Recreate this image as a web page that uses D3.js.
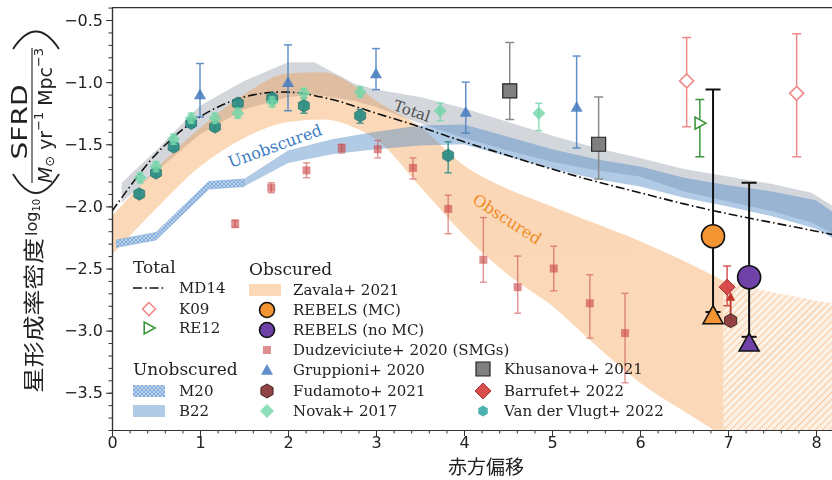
<!DOCTYPE html>
<html>
<head>
<meta charset="utf-8">
<script src="https://cdn.jsdelivr.net/npm/d3@7"></script>
<style>
  body { margin: 0; background: #fff; }
  svg { display: block; }
</style>
</head>
<body>
<svg id="chart" width="832" height="480"></svg>
<script>
// ---------- data (redshift z, log10 SFRD) ----------
const xTicks = [0, 1, 2, 3, 4, 5, 6, 7, 8];
const yTicks = [-3.5, -3.0, -2.5, -2.0, -1.5, -1.0, -0.5];

// Madau & Dickinson 2014 curve
const mdZ    = [0, 0.5, 1, 1.5, 2, 2.5, 3, 3.5, 4, 4.5, 5, 5.5, 6, 6.5, 7, 7.5, 8, 8.5];
const mdSFRD = [-2.04, -1.58, -1.28, -1.12, -1.08, -1.14, -1.25, -1.36, -1.48, -1.59, -1.70, -1.80, -1.89, -1.98, -2.06, -2.13, -2.20, -2.27];

// total (obscured + unobscured) band
const totalZ  = [0.11, 0.5, 1.0, 1.5, 2.0, 2.3, 2.75, 3.0, 3.5, 4.0, 4.5, 5.0, 5.5, 6.0, 6.5, 7.0, 7.5, 7.95, 8.2, 8.5];
const totalHi = [-1.81, -1.55, -1.19, -0.99, -0.84, -0.84, -1.01, -1.06, -1.12, -1.21, -1.32, -1.43, -1.53, -1.61, -1.70, -1.76, -1.82, -1.89, -2.00, -2.20];
const totalLo = [-1.97, -1.72, -1.42, -1.22, -1.12, -1.10, -1.15, -1.20, -1.33, -1.45, -1.55, -1.64, -1.71, -1.76, -1.88, -1.96, -2.04, -2.13, -2.22, -2.42];

// unobscured: M20 and B22
const m20Z  = [0.05, 0.5, 1.1, 1.5];
const m20Hi = [-2.27, -2.21, -1.80, -1.78];
const m20Lo = [-2.33, -2.27, -1.86, -1.84];
const b22Z  = [1.5, 2.0, 2.5, 3.0, 3.5, 4.0, 4.5, 5.0, 5.5, 6.0, 6.5, 7.0, 7.5, 8.0, 8.2, 8.5];
const b22Hi = [-1.78, -1.55, -1.46, -1.40, -1.35, -1.34, -1.44, -1.54, -1.62, -1.68, -1.77, -1.83, -1.88, -1.95, -2.05, -2.20];
const b22Lo = [-1.84, -1.65, -1.58, -1.54, -1.51, -1.50, -1.60, -1.70, -1.78, -1.84, -1.93, -2.00, -2.08, -2.18, -2.26, -2.45];

// obscured: Zavala+ 2021 band and its extrapolation
const zavZ  = [0, 0.5, 1.0, 1.5, 2.0, 2.4, 2.8, 3.0, 3.5, 4.0, 4.5, 5.0, 5.5, 6.0, 6.5, 6.95];
const zavHi = [-2.08, -1.70, -1.37, -1.10, -0.93, -0.92, -1.05, -1.15, -1.36, -1.67, -1.86, -2.00, -2.14, -2.28, -2.44, -2.60];
const zavLo = [-2.39, -2.02, -1.68, -1.45, -1.32, -1.30, -1.38, -1.46, -1.84, -2.23, -2.55, -2.80, -3.12, -3.42, -3.65, -3.85];
const zavExtZ  = [6.95, 7.5, 8.0, 8.5];
const zavExtHi = [-2.60, -2.69, -2.76, -2.82];
const zavExtLo = [-3.90, -4.10, -4.30, -4.50];

// K09
const k09Z = [6.53, 7.78], k09SFRD = [-0.99, -1.09], k09Hi = [-0.64, -0.61], k09Lo = [-1.36, -1.60];
// RE12
const re12Z = [6.68], re12SFRD = [-1.33], re12Hi = [-1.14], re12Lo = [-1.60];
// REBELS
const rebMcZ = [6.83], rebMcSFRD = [-2.24], rebMcHi = [-1.06], rebMcLo = [-2.85], rebMcLim = [-2.88];
const rebNoZ = [7.24], rebNoSFRD = [-2.57], rebNoHi = [-1.81], rebNoLo = [-3.05], rebNoLim = [-3.10];
// Dudzeviciute+ 2020 (SMGs)
const dudZ    = [1.40, 1.81, 2.21, 2.61, 3.02, 3.42, 3.82, 4.22, 4.61, 5.02, 5.43, 5.83];
const dudSFRD = [-2.14, -1.85, -1.71, -1.53, -1.54, -1.69, -2.02, -2.43, -2.65, -2.50, -2.78, -3.02];
const dudHi   = [-2.11, -1.81, -1.65, -1.50, -1.47, -1.61, -1.91, -2.09, -2.40, -2.32, -2.55, -2.70];
const dudLo   = [-2.17, -1.89, -1.77, -1.57, -1.61, -1.78, -2.22, -2.61, -2.86, -2.68, -3.06, -3.42];
// Gruppioni+ 2020
const gruZ    = [1.0, 2.0, 3.0, 4.02, 5.28];
const gruSFRD = [-1.10, -1.00, -0.93, -1.24, -1.20];
const gruHi   = [-0.85, -0.70, -0.73, -1.00, -0.79];
const gruLo   = [-1.28, -1.23, -1.06, -1.41, -1.53];
// Fudamoto+ 2021 (lower limit)
const fudZ = [7.03], fudSFRD = [-2.92], fudArrow = [-2.72];
// Novak+ 2017
const novZ    = [0.32, 0.50, 0.70, 0.90, 1.17, 1.43, 1.82, 2.18, 2.82, 3.73, 4.85];
const novSFRD = [-1.77, -1.68, -1.46, -1.29, -1.29, -1.25, -1.16, -1.09, -1.08, -1.23, -1.25];
const novHi   = [-1.73, -1.64, -1.42, -1.25, -1.25, -1.21, -1.12, -1.05, -1.04, -1.17, -1.17];
const novLo   = [-1.81, -1.72, -1.50, -1.33, -1.33, -1.29, -1.20, -1.13, -1.12, -1.31, -1.39];
// Khusanova+ 2021
const khuZ = [4.52, 5.53], khuSFRD = [-1.07, -1.50], khuHi = [-0.68, -1.12], khuLo = [-1.30, -1.78];
// Barrufet+ 2022
const barZ = [6.99], barSFRD = [-2.65], barHi = [-2.48], barLo = [-2.80];
// Van der Vlugt+ 2022
const vdvZ    = [0.31, 0.50, 0.70, 0.90, 1.17, 1.43, 1.82, 2.18, 2.82, 3.82];
const vdvSFRD = [-1.90, -1.73, -1.52, -1.33, -1.36, -1.17, -1.13, -1.19, -1.27, -1.59];
const vdvHi   = [-1.87, -1.70, -1.49, -1.30, -1.33, -1.14, -1.09, -1.13, -1.22, -1.48];
const vdvLo   = [-1.93, -1.76, -1.55, -1.36, -1.39, -1.20, -1.17, -1.25, -1.33, -1.73];

// ---------- scales ----------
const x = d3.scaleLinear().domain([0, 8.5]).range([112, 860]);
const y = d3.scaleLinear().domain([-3.8, -0.4]).range([430, 7.6]);

const svg = d3.select("#chart");
const defs = svg.append("defs");
defs.append("clipPath").attr("id", "plotClip")
  .append("rect").attr("x", 112).attr("y", 7.6).attr("width", 748).attr("height", 422.4);

// crosshatch for M20
const pm = defs.append("pattern").attr("id", "m20Hatch").attr("patternUnits", "userSpaceOnUse")
  .attr("width", 4).attr("height", 4);
pm.append("rect").attr("width", 4).attr("height", 4).attr("fill", "#bdd3ec");
pm.append("path").attr("d", "M0,0L4,4M4,0L0,4").attr("stroke", "#5b92cf").attr("stroke-width", 0.6);

// diagonal hatch for the extrapolated obscured band
const pz = defs.append("pattern").attr("id", "zavHatch").attr("patternUnits", "userSpaceOnUse")
  .attr("width", 5).attr("height", 5).attr("patternTransform", "rotate(45)");
pz.append("rect").attr("width", 5).attr("height", 5).attr("fill", "#fcebdb").attr("opacity", 0.7);
pz.append("line").attr("x1", 0).attr("y1", 0).attr("x2", 0).attr("y2", 5)
  .attr("stroke", "#f3a865").attr("stroke-width", 1.2).attr("opacity", 0.9);

// ---------- marker shapes ----------
function shape(kind, r) {
  const p = d3.path();
  if (kind === "circle") { p.arc(0, 0, r, 0, 2 * Math.PI); p.closePath(); }
  else if (kind === "square") { p.rect(-r, -r, 2 * r, 2 * r); }
  else if (kind === "diamond") { p.moveTo(0, -r); p.lineTo(r, 0); p.lineTo(0, r); p.lineTo(-r, 0); p.closePath(); }
  else if (kind === "hex") {
    for (let i = 0; i < 6; i++) {
      const a = -Math.PI / 2 + i * Math.PI / 3;
      if (i === 0) p.moveTo(r * Math.cos(a), r * Math.sin(a)); else p.lineTo(r * Math.cos(a), r * Math.sin(a));
    }
    p.closePath();
  }
  else if (kind === "triUp") { p.moveTo(0, -r); p.lineTo(r, r * 0.8); p.lineTo(-r, r * 0.8); p.closePath(); }
  else if (kind === "triRight") { p.moveTo(r, 0); p.lineTo(-r * 0.8, -r); p.lineTo(-r * 0.8, r); p.closePath(); }
  return p.toString();
}

const plot = svg.append("g").attr("clip-path", "url(#plotClip)");

function band(zs, lo, hi, curve) {
  const pts = zs.map((z, i) => ({ z, lo: lo[i], hi: hi[i] }));
  return d3.area().x(d => x(d.z)).y0(d => y(d.lo)).y1(d => y(d.hi)).curve(curve)(pts);
}

// ---------- bands ----------
plot.append("path").attr("d", band(totalZ, totalLo, totalHi, d3.curveLinear))
  .attr("fill", "#8c96a2").attr("opacity", 0.38);
plot.append("path").attr("d", band(zavZ, zavLo, zavHi, d3.curveMonotoneX))
  .attr("fill", "#f28e2b").attr("opacity", 0.34);
plot.append("path").attr("d", band(zavExtZ, zavExtLo, zavExtHi, d3.curveLinear))
  .attr("fill", "url(#zavHatch)");
plot.append("path").attr("d", band(m20Z, m20Lo, m20Hi, d3.curveLinear))
  .attr("fill", "url(#m20Hatch)").attr("stroke", "#7aa7d8").attr("stroke-width", 0.6);
plot.append("path").attr("d", band(b22Z, b22Lo, b22Hi, d3.curveLinear))
  .attr("fill", "#4a86c5").attr("opacity", 0.43);

// MD14
plot.append("path")
  .attr("d", d3.line().x((d, i) => x(mdZ[i])).y(d => y(d)).curve(d3.curveCatmullRom)(mdSFRD))
  .attr("fill", "none").attr("stroke", "#111").attr("stroke-width", 1.6)
  .attr("stroke-dasharray", "9,3,1.6,3");

// band labels
function bandLabel(cx, cy, ang, txt, color, size) {
  plot.append("text").attr("transform", `translate(${cx},${cy}) rotate(${ang})`)
    .attr("text-anchor", "middle").attr("dy", "0.35em")
    .attr("font-family", "DejaVu Serif").attr("font-size", size).attr("fill", color).text(txt);
}
bandLabel(412, 111, 19, "Total", "#4d4d4d", 15);
bandLabel(275, 146, -20, "Unobscured", "#3b7cc4", 16);
bandLabel(507, 219, 33, "Obscured", "#f08a24", 16);

// ---------- points ----------
function errorBars(zs, lo, hi, color, cap, width, opacity) {
  const g = plot.append("g").attr("stroke", color).attr("stroke-width", width).attr("opacity", opacity);
  zs.forEach((z, i) => {
    const xx = x(z);
    g.append("line").attr("x1", xx).attr("x2", xx).attr("y1", y(lo[i])).attr("y2", y(hi[i]));
    g.append("line").attr("x1", xx - cap).attr("x2", xx + cap).attr("y1", y(lo[i])).attr("y2", y(lo[i]));
    g.append("line").attr("x1", xx - cap).attr("x2", xx + cap).attr("y1", y(hi[i])).attr("y2", y(hi[i]));
  });
}
function markers(zs, vals, kind, r, fill, stroke, sw, opacity) {
  const g = plot.append("g").attr("opacity", opacity);
  zs.forEach((z, i) => {
    g.append("path").attr("d", shape(kind, r))
      .attr("transform", `translate(${x(z)},${y(vals[i])})`)
      .attr("fill", fill).attr("stroke", stroke).attr("stroke-width", sw);
  });
}

// Dudzeviciute
errorBars(dudZ, dudLo, dudHi, "#cc4a4a", 3.5, 1.4, 0.6);
markers(dudZ, dudSFRD, "square", 4, "#cc4a4a", "none", 0, 0.62);
// Van der Vlugt
errorBars(vdvZ, vdvLo, vdvHi, "#2a8c84", 3.5, 1.4, 0.9);
markers(vdvZ, vdvSFRD, "hex", 6.3, "#2a8c84", "#1f6f69", 0.8, 0.92);
// Novak
errorBars(novZ, novLo, novHi, "#72d6a8", 3.5, 1.4, 0.85);
markers(novZ, novSFRD, "diamond", 6.5, "#72d6a8", "none", 0, 0.8);
// Gruppioni
errorBars(gruZ, gruLo, gruHi, "#4a7fc1", 4, 1.5, 0.85);
markers(gruZ, gruSFRD, "triUp", 6, "#4a7fc1", "none", 0, 0.88);
// Khusanova
errorBars(khuZ, khuLo, khuHi, "#8a8a8a", 4.5, 1.5, 1);
markers(khuZ, khuSFRD, "square", 7, "#808080", "#222", 1.2, 1);
// K09
errorBars(k09Z, k09Lo, k09Hi, "#f08a8a", 4.5, 1.5, 1);
markers(k09Z, k09SFRD, "diamond", 7, "#fff", "#f08a8a", 1.6, 1);
// RE12
errorBars(re12Z, re12Lo, re12Hi, "#3c963c", 4.5, 1.5, 1);
markers(re12Z, re12SFRD, "triRight", 6, "#fff", "#3c963c", 1.6, 1);
// Barrufet
errorBars(barZ, barLo, barHi, "#d64545", 4, 1.5, 0.9);
markers(barZ, barSFRD, "diamond", 8, "#d64545", "#a52a2a", 1, 0.95);
// Fudamoto lower limit
fudZ.forEach((z, i) => {
  const xx = x(z), y0 = y(fudSFRD[i]), y1 = y(fudArrow[i]);
  plot.append("line").attr("x1", xx).attr("x2", xx).attr("y1", y0).attr("y2", y1 + 4)
    .attr("stroke", "#c0392b").attr("stroke-width", 1.8);
  plot.append("path").attr("d", `M${xx},${y1 - 4}L${xx + 4.5},${y1 + 5}L${xx - 4.5},${y1 + 5}Z`)
    .attr("fill", "#c0392b");
});
markers(fudZ, fudSFRD, "hex", 7, "#8c3b3b", "#3a1515", 1, 0.95);
// REBELS
errorBars(rebMcZ, rebMcLo, rebMcHi, "#111", 7.5, 2, 1);
markers(rebMcZ, rebMcLim, "triUp", 10, "#f39532", "#111", 1.6, 1);
markers(rebMcZ, rebMcSFRD, "circle", 11.5, "#f39532", "#111", 1.6, 1);
errorBars(rebNoZ, rebNoLo, rebNoHi, "#111", 7.5, 2, 1);
markers(rebNoZ, rebNoLim, "triUp", 10, "#6f42a8", "#111", 1.6, 1);
markers(rebNoZ, rebNoSFRD, "circle", 11.5, "#6f42a8", "#111", 1.6, 1);

// ---------- axes ----------
const axisColor = "#333";
const yAxis = d3.axisLeft(y).tickValues(yTicks).tickFormat(d3.format(".1f")).tickSize(6).tickSizeOuter(0).tickPadding(3);
const yMinor = d3.axisLeft(y).tickValues(d3.range(-3.8, -0.39, 0.1).map(v => +v.toFixed(2))).tickFormat("").tickSize(3.5).tickSizeOuter(0);
const xAxis = d3.axisBottom(x).tickValues(xTicks).tickFormat(d3.format("d")).tickSize(6).tickSizeOuter(0).tickPadding(1);
const xMinor = d3.axisBottom(x).tickValues(d3.range(0, 8.45, 0.2).map(v => +v.toFixed(2))).tickFormat("").tickSize(3.5).tickSizeOuter(0);

function styleAxis(g) {
  g.selectAll("path.domain").attr("stroke", axisColor).attr("stroke-width", 1.2);
  g.selectAll(".tick line").attr("stroke", axisColor).attr("stroke-width", 1);
  g.selectAll(".tick text").attr("font-family", "DejaVu Sans").attr("font-size", 16).attr("fill", "#222");
}
svg.append("g").attr("transform", `translate(${x(0)},0)`).call(yMinor).call(styleAxis);
svg.append("g").attr("transform", `translate(${x(0)},0)`).call(yAxis).call(styleAxis);
svg.append("g").attr("transform", `translate(0,${y(-3.8)})`).call(xMinor).call(styleAxis);
svg.append("g").attr("transform", `translate(0,${y(-3.8)})`).call(xAxis).call(styleAxis);
svg.append("line").attr("x1", x(0)).attr("x2", x(8.5)).attr("y1", y(-0.4)).attr("y2", y(-0.4))
  .attr("stroke", axisColor).attr("stroke-width", 1.2);

// x label
svg.append("text").attr("x", 486).attr("y", 467.5).attr("text-anchor", "middle").attr("dy", "0.35em")
  .attr("font-family", "Noto Sans CJK JP").attr("font-size", 19).attr("fill", "#222").text("赤方偏移");

// y label (rotated frame: local x = -screen y, local y = screen x)
const yl = svg.append("g").attr("transform", "rotate(-90)").attr("fill", "#222");
yl.append("text").attr("x", -393).attr("y", 32).attr("dominant-baseline", "central")
  .attr("font-family", "Noto Sans CJK SC").attr("font-size", 21)
  .attr("textLength", 155).attr("lengthAdjust", "spacingAndGlyphs").text("星形成率密度");
const logT = yl.append("text").attr("x", -236).attr("y", 31).attr("dominant-baseline", "central")
  .attr("font-family", "DejaVu Sans").attr("font-size", 16);
logT.append("tspan").text("log");
logT.append("tspan").attr("font-size", 10).attr("dy", 5).text("10");
yl.append("path").attr("d", "M-174,13 Q-212,36 -174,59").attr("fill", "none").attr("stroke", "#222").attr("stroke-width", 1.8);
yl.append("path").attr("d", "M-49,13 Q-14,36 -49,59").attr("fill", "none").attr("stroke", "#222").attr("stroke-width", 1.8);
yl.append("line").attr("x1", -183).attr("x2", -48).attr("y1", 32).attr("y2", 32).attr("stroke", "#222").attr("stroke-width", 1.1);
yl.append("text").attr("x", -122).attr("y", 20).attr("text-anchor", "middle").attr("dominant-baseline", "central")
  .attr("font-family", "DejaVu Sans").attr("font-size", 21)
  .attr("textLength", 75).attr("lengthAdjust", "spacingAndGlyphs").text("SFRD");
const den = yl.append("text").attr("x", -115.5).attr("y", 45).attr("text-anchor", "middle").attr("dominant-baseline", "central")
  .attr("font-family", "DejaVu Sans").attr("font-size", 19)
  .attr("textLength", 135).attr("lengthAdjust", "spacingAndGlyphs");
den.append("tspan").attr("font-style", "italic").text("M");
den.append("tspan").attr("font-size", 13).attr("dy", 4).text("⊙");
den.append("tspan").attr("dy", -4).text(" yr");
den.append("tspan").attr("font-size", 13).attr("dy", -7).text("−1");
den.append("tspan").attr("dy", 7).text(" Mpc");
den.append("tspan").attr("font-size", 13).attr("dy", -7).text("−3");

// ---------- legend ----------
const lg = svg.append("g");
function lgText(xp, yp, txt, size) {
  lg.append("text").attr("x", xp).attr("y", yp).attr("dy", "0.35em")
    .attr("font-family", "DejaVu Serif").attr("font-size", size || 15).attr("fill", "#222").text(txt);
}
function lgMarker(xp, yp, kind, r, fill, stroke, sw, opacity) {
  lg.append("path").attr("d", shape(kind, r)).attr("transform", `translate(${xp},${yp})`)
    .attr("fill", fill).attr("stroke", stroke).attr("stroke-width", sw).attr("opacity", opacity);
}
// column 1
lgText(133, 267, "Total", 17);
lg.append("line").attr("x1", 133).attr("x2", 165).attr("y1", 288).attr("y2", 288)
  .attr("stroke", "#111").attr("stroke-width", 1.6).attr("stroke-dasharray", "9,3,1.6,3");
lgText(179, 288, "MD14");
lgMarker(149, 309, "diamond", 6.5, "#fff", "#f08a8a", 1.6, 1);
lgText(179, 309, "K09");
lgMarker(149, 328, "triRight", 6, "#fff", "#3c963c", 1.6, 1);
lgText(179, 328, "RE12");
lgText(133, 369, "Unobscured", 17);
lg.append("rect").attr("x", 133).attr("y", 385).attr("width", 32).attr("height", 12).attr("fill", "url(#m20Hatch)");
lgText(179, 391, "M20");
lg.append("rect").attr("x", 133).attr("y", 405).attr("width", 32).attr("height", 12).attr("fill", "#4a86c5").attr("opacity", 0.43);
lgText(179, 411, "B22");
// column 2
lgText(249, 269, "Obscured", 17);
lg.append("rect").attr("x", 249).attr("y", 284).attr("width", 32).attr("height", 12).attr("fill", "#f28e2b").attr("opacity", 0.34);
lgText(293, 290, "Zavala+ 2021");
lgMarker(267, 310, "circle", 7.5, "#f39532", "#111", 1.6, 1);
lgText(293, 310, "REBELS (MC)");
lgMarker(267, 330, "circle", 7.5, "#6f42a8", "#111", 1.6, 1);
lgText(293, 330, "REBELS (no MC)");
lgMarker(267, 350, "square", 4, "#cc4a4a", "none", 0, 0.62);
lgText(293, 350, "Dudzeviciute+ 2020 (SMGs)");
lgMarker(267, 370, "triUp", 6, "#4a7fc1", "none", 0, 0.88);
lgText(293, 370, "Gruppioni+ 2020");
lgMarker(267, 391, "hex", 7, "#8c3b3b", "#3a1515", 1, 0.95);
lgText(293, 391, "Fudamoto+ 2021");
lgMarker(267, 411, "diamond", 7, "#72d6a8", "none", 0, 0.8);
lgText(293, 411, "Novak+ 2017");
// column 3
lgMarker(483, 369, "square", 7, "#808080", "#222", 1.2, 1);
lgText(504, 369, "Khusanova+ 2021");
lgMarker(483, 391, "diamond", 8, "#d64545", "#a52a2a", 1, 0.95);
lgText(504, 391, "Barrufet+ 2022");
lgMarker(483, 411, "hex", 5.5, "#2fa3a0", "none", 0, 0.85);
lgText(504, 411, "Van der Vlugt+ 2022");
</script>
</body>
</html>
